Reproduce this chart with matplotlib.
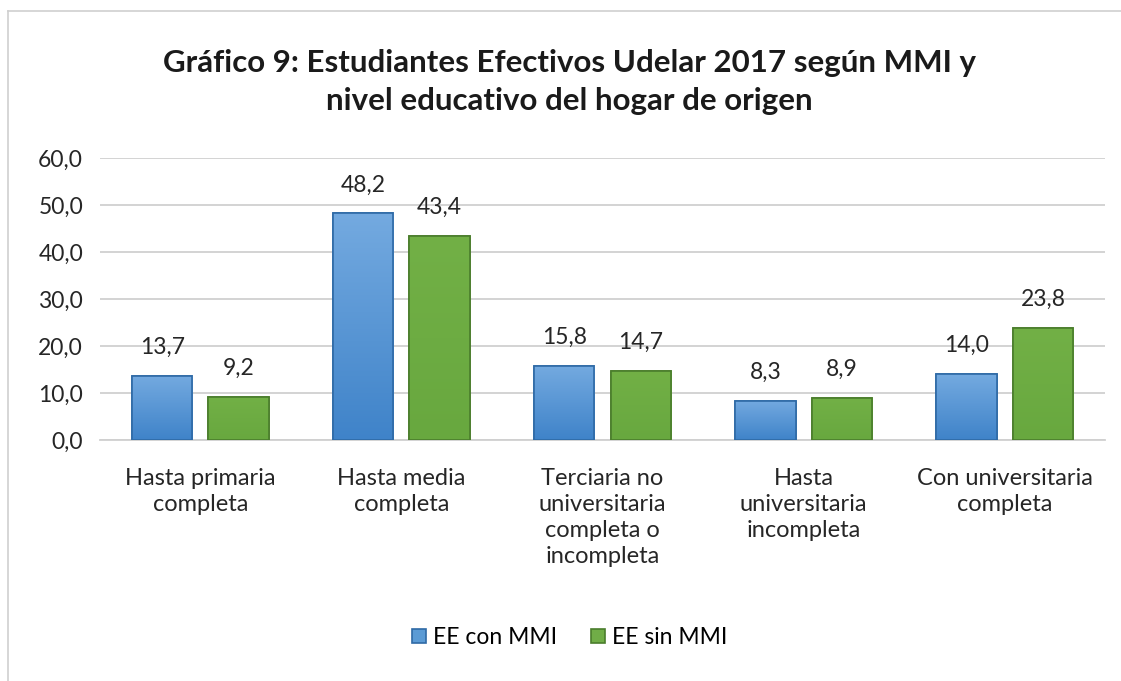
import matplotlib.pyplot as plt
import numpy as np
from matplotlib.colors import LinearSegmentedColormap

plt.rcParams['font.family'] = ['Lato', 'DejaVu Sans']

categories = ['Hasta primaria\ncompleta', 'Hasta media\ncompleta',
              'Terciaria no\nuniversitaria\ncompleta o\nincompleta',
              'Hasta\nuniversitaria\nincompleta', 'Con universitaria\ncompleta']
con_mmi = [13.7, 48.2, 15.8, 8.3, 14.0]
sin_mmi = [9.2, 43.4, 14.7, 8.9, 23.8]
series_names = ['EE con MMI', 'EE sin MMI']
yticks = [0, 10, 20, 30, 40, 50, 60]


def fmt(v):
    return ('%.1f' % v).replace('.', ',')


fig = plt.figure(figsize=(11.21, 6.81), dpi=100)
ax = fig.add_axes([0.089, 0.354, 0.897, 0.414])

x = np.arange(len(categories))
w = 0.3
off = 0.19

blue_cmap = LinearSegmentedColormap.from_list('b', ['#3f83c9', '#74aae0'])
green_cmap = LinearSegmentedColormap.from_list('g', ['#68a83f', '#72b046'])

b1 = ax.bar(x - off, con_mmi, w, color='#5b9bd5', edgecolor='#2f6aa6',
            linewidth=1.2, label=series_names[0], zorder=3)
b2 = ax.bar(x + off, sin_mmi, w, color='#70ad47', edgecolor='#4a7d2c',
            linewidth=1.2, label=series_names[1], zorder=3)

# gradient fill, clipped to each bar
grad = np.linspace(0, 1, 256).reshape(-1, 1)
for bars, cmap in ((b1, blue_cmap), (b2, green_cmap)):
    for r in bars:
        x0, y0 = r.get_x(), r.get_y()
        im = ax.imshow(grad, cmap=cmap, aspect='auto', origin='lower',
                       extent=(x0, x0 + r.get_width(), y0, y0 + r.get_height()),
                       zorder=3.5)
        im.set_clip_path(r)
        r2 = plt.Rectangle((x0, y0), r.get_width(), r.get_height(), fill=False,
                           edgecolor=r.get_edgecolor(), linewidth=1.2, zorder=4)
        ax.add_patch(r2)

for bars, vals in ((b1, con_mmi), (b2, sin_mmi)):
    for r, v in zip(bars, vals):
        ax.annotate(fmt(v), (r.get_x() + r.get_width() / 2, v),
                    xytext=(0, 13), textcoords='offset points',
                    ha='center', va='bottom', fontsize=16.5, color='#262626')

ax.set_xlim(-0.5, len(categories) - 0.5)
ax.set_ylim(0, 60)
ax.set_yticks(yticks)
ax.set_yticklabels([fmt(t) for t in yticks], fontsize=16.5, color='#262626')
ax.set_xticks(x)
ax.set_xticklabels(categories, fontsize=17, color='#262626', linespacing=1.3, va='top')
ax.tick_params(length=0, pad=12)
ax.tick_params(axis='x', pad=20)
ax.grid(axis='y', color='#d0d0d0', linewidth=1.3, zorder=0)
for s in ['top', 'right', 'left']:
    ax.spines[s].set_visible(False)
ax.spines['bottom'].set_color('#d0d0d0')
ax.spines['bottom'].set_linewidth(1.3)
ax.set_axisbelow(True)

fig.text(0.508, 0.908, 'Gráfico 9: Estudiantes Efectivos Udelar 2017 según MMI y',
         ha='center', va='center', fontsize=22.5, fontweight='bold', color='#1a1a1a')
fig.text(0.508, 0.852, 'nivel educativo del hogar de origen',
         ha='center', va='center', fontsize=22.5, fontweight='bold', color='#1a1a1a')

fig.legend(handles=[b1, b2], labels=series_names, loc='center',
           bbox_to_anchor=(0.508, 0.064), ncol=2, frameon=False, fontsize=16.5,
           handlelength=0.6, handleheight=0.6, handletextpad=0.3, columnspacing=1.5)

# light frame of the chart area (top and left edges visible)
fig.add_artist(plt.Line2D([0.007, 0.007], [0.984, 0.0], color='#cfcfcf', linewidth=1.2))
fig.add_artist(plt.Line2D([0.007, 1.0], [0.984, 0.984], color='#cfcfcf', linewidth=1.2))

fig.savefig('out.png', dpi=100)
